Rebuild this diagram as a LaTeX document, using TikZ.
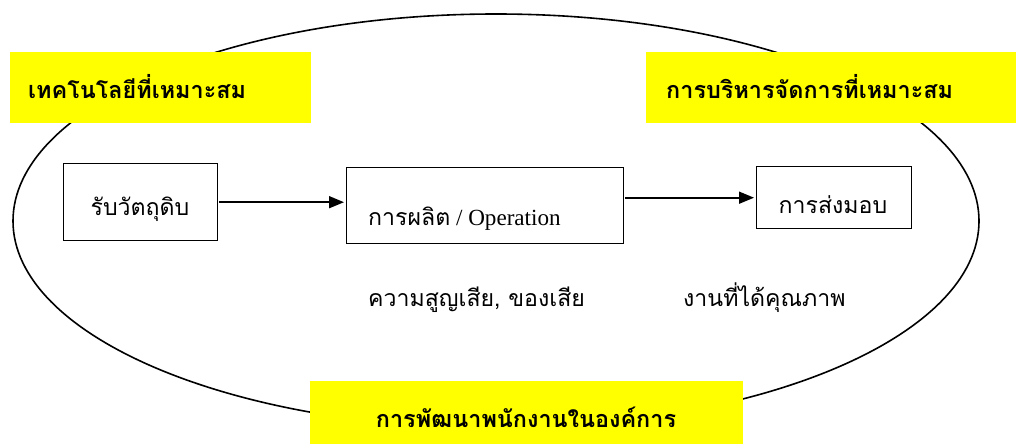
\documentclass[tikz,border=0pt]{standalone}
\usepackage{fontspec}
\newfontfamily\thai[Script=Thai]{Loma}
\newfontfamily\latn{Liberation Serif}
\usetikzlibrary{arrows.meta}
\definecolor{hl}{RGB}{255,255,0}
\newlength\regw
\newlength\boldw
\tikzset{
  ring/.style={draw=black, line width=1.6pt},
  hlbox/.style={fill=hl, draw=none, inner sep=0pt, anchor=north west},
  stepbox/.style={draw=black, line width=1.4pt, fill=white, inner sep=0pt, anchor=north west},
  lbl/.style={inner sep=0pt, anchor=base west, font=\thai\fontsize{\regsize pt}{\regsize pt}\selectfont},
  clbl/.style={lbl, anchor=base},
  blbl/.style={inner sep=0pt, anchor=base west, font=\thai\bfseries\fontsize{\boldsize pt}{\boldsize pt}\selectfont},
  arr/.style={line width=1.6pt, -{Triangle[length=15pt,width=12pt]}, shorten <=1pt, shorten >=2pt}
}
\begin{document}
\settowidth\regw{\thai\fontsize{10pt}{12pt}\selectfont ความสูญเสีย, ของเสียการส่งมอบรับวัตถุดิบ}%
\settowidth\boldw{\thai\bfseries\fontsize{10pt}{12pt}\selectfont การบริหารจัดการที่เหมาะสมการพัฒนาพนักงานในองค์การ}%
\pgfmathsetmacro\regsize{10*424/\regw}%
\pgfmathsetmacro\boldsize{10*587/\boldw}%
\begin{tikzpicture}[x=1pt,y=-1pt]
\useasboundingbox (0,0) rectangle (1016,444);
\draw[ring] (496,221) ellipse [x radius=483, y radius=207];
% yellow labels
\node[hlbox, minimum width=301pt, minimum height=71pt] (y1) at (10,52) {};
\node[hlbox, minimum width=370pt, minimum height=71pt] (y2) at (646,52) {};
\node[hlbox, minimum width=433pt, minimum height=63pt] (y3) at (310,381) {};
\node[blbl] (l1) at (28,98) {เทคโนโลยีที่เหมาะสม};
\node[blbl] (l2) at (666,98) {การบริหารจัดการที่เหมาะสม};
\node[blbl, anchor=base] (l3) at (526,427) {การพัฒนาพนักงานในองค์การ};
% process boxes
\node[stepbox, minimum width=154pt, minimum height=77pt] (b1) at (63,163) {};
\node[stepbox, minimum width=277pt, minimum height=76pt] (b2) at (346,167) {};
\node[stepbox, minimum width=155pt, minimum height=62pt] (b3) at (756,166) {};
\node[clbl] (l4) at (140,215) {รับวัตถุดิบ};
\node[lbl] (l5) at (368,225) {การผลิต{\latn{} / Operation}};
\node[clbl] (l6) at (833,213) {การส่งมอบ};
\node[lbl] (l7) at (368,306) {ความสูญเสีย, ของเสีย};
\node[lbl] (l8) at (683,306) {งานที่ได้คุณภาพ};
% arrows
\draw[arr] (b1.east) -- (b1.east -| b2.west);
\draw[arr] (b3.west -| b2.east) -- (b3.west);
\end{tikzpicture}
\end{document}
